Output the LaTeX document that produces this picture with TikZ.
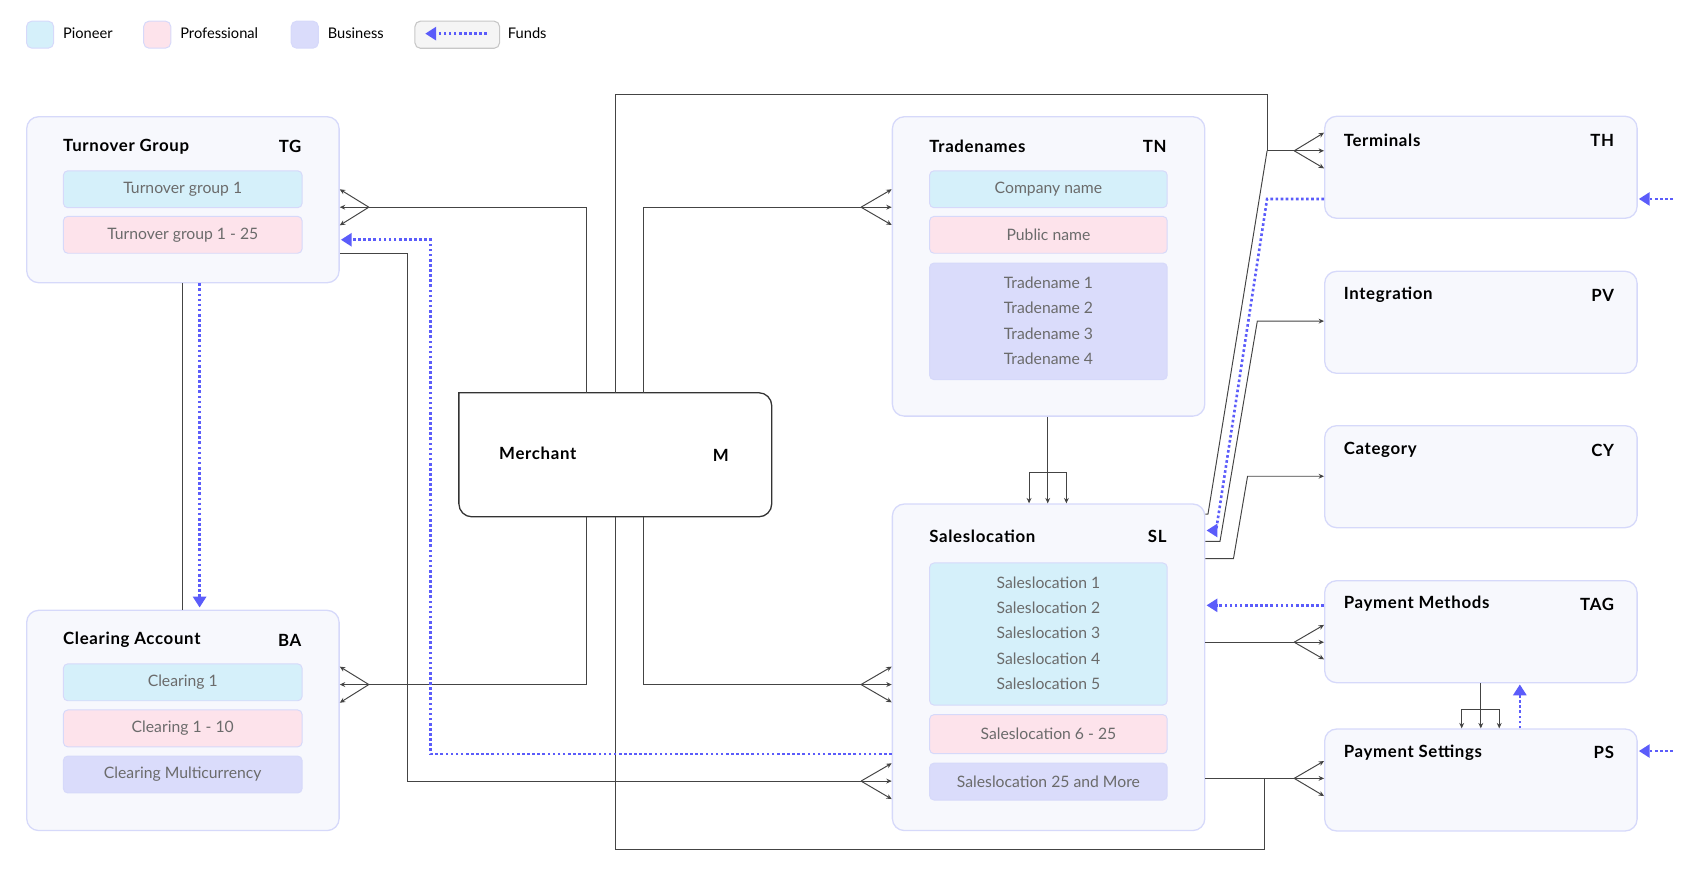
\documentclass[tikz,border=0pt]{standalone}
\usepackage{fontspec}
\setmainfont{Lato}
\usetikzlibrary{arrows.meta,calc}
\definecolor{outerfill}{HTML}{F7F8FD}
\definecolor{outerdraw}{HTML}{D6D9FA}
\definecolor{pion}{HTML}{D5F0FA}
\definecolor{prof}{HTML}{FDE3EB}
\definecolor{busi}{HTML}{DADCFB}
\definecolor{funds}{HTML}{5B5CFA}
\definecolor{itext}{HTML}{6B6B6B}
\definecolor{ink}{HTML}{444444}
\begin{document}
\begin{tikzpicture}[x=1pt,y=-1pt,
 outerbox/.style={draw=outerdraw, fill=outerfill, line width=1.2pt, rounded corners=11pt, anchor=north west, inner sep=0pt},
 rbox/.style={outerbox, minimum width=288pt, minimum height=94pt},
 innerbox/.style={draw=outerdraw, line width=0.9pt, rounded corners=4pt, anchor=north west, inner sep=0pt, minimum width=220pt},
 swatch/.style={draw=outerdraw, line width=0.9pt, rounded corners=5pt, anchor=north west, inner sep=0pt, minimum width=25pt, minimum height=25pt},
 ttl/.style={font=\fontsize{15.5}{18}\selectfont\bfseries\addfontfeatures{LetterSpace=4}, text=black, inner sep=0pt},
 itx/.style={font=\fontsize{14.5}{18}\selectfont, text=itext, inner sep=0pt},
 lgd/.style={font=\fontsize{13.5}{16}\selectfont, text=black, inner sep=0pt, anchor=west},
 conn/.style={draw=ink, line width=0.9pt},
 tip/.style={conn, -{Stealth[length=5pt,width=4.5pt]}},
 fund/.style={draw=funds, line width=2.4pt, dash pattern=on 2.4pt off 2.3pt, -{Triangle[length=10pt,width=12pt]}},
]
\useasboundingbox (0,0) rectangle (1568,820);

% ---------- legend ----------
\node[swatch, fill=pion] (lp) at (24,19) {};
\node[lgd] (lpt) at (58,31) {Pioneer};
\node[swatch, fill=prof] (lr) at (132,19) {};
\node[lgd] (lrt) at (166,31) {Professional};
\node[swatch, fill=busi] (lb) at (268,19) {};
\node[lgd] (lbt) at (302,31) {Business};
\node[draw=black!22, fill=black!4, line width=1pt, rounded corners=5pt, anchor=north west, minimum width=78pt, minimum height=25pt, inner sep=0pt] (lf) at (382,19) {};
\coordinate (lfa) at (449,31);
\coordinate (lfb) at (392,31);
\draw[fund] (lfa) -- (lfb);
\node[lgd] (lft) at (468,31) {Funds};

% ---------- left boxes ----------
\node[outerbox, minimum width=288pt, minimum height=153pt] (tg) at (24,107) {};
\node[ttl, anchor=west] (tgt) at (58,135) {Turnover Group};
\node[ttl, anchor=east] (tga) at (278,135) {TG};
\node[innerbox, fill=pion, minimum height=34pt] (tg1) at (58,157) {};
\node[itx] at (tg1) {Turnover group 1};
\node[innerbox, fill=prof, minimum height=34pt] (tg2) at (58,199) {};
\node[itx] at (tg2) {Turnover group 1 - 25};

\node[outerbox, minimum width=288pt, minimum height=203pt] (ba) at (24,562) {};
\node[ttl, anchor=west] (bat) at (58,590) {Clearing Account};
\node[ttl, anchor=east] (baa) at (278,590) {BA};
\node[innerbox, fill=pion, minimum height=34pt] (ba1) at (58,611.5) {};
\node[itx] at (ba1) {Clearing 1};
\node[innerbox, fill=prof, minimum height=34pt] (ba2) at (58,654) {};
\node[itx] at (ba2) {Clearing 1 - 10};
\node[innerbox, fill=busi, minimum height=34pt] (ba3) at (58,696.5) {};
\node[itx] at (ba3) {Clearing Multicurrency};

% ---------- merchant ----------
\node[minimum width=288pt, minimum height=114pt, anchor=north west, inner sep=0pt] (mer) at (423,362) {};
\draw[draw=black!80, fill=white, line width=1.2pt, rounded corners=12pt]
  (mer.north) -- (mer.north east) -- (mer.south east) -- (mer.south west) -- (mer.west)
  [sharp corners] -- (mer.north west) -- cycle;
\node[ttl, anchor=west] (mert) at (460,418) {Merchant};
\node[ttl, anchor=east] (mera) at (672,420) {M};

% ---------- tradenames ----------
\node[outerbox, minimum width=288pt, minimum height=276pt] (tn) at (822,107) {};
\node[ttl, anchor=west] (tnt) at (856.5,135) {Tradenames};
\node[ttl, anchor=east] (tna) at (1075.5,135) {TN};
\node[innerbox, fill=pion, minimum height=34pt, minimum width=219pt] (tn1) at (856.5,157) {};
\node[itx] at (tn1) {Company name};
\node[innerbox, fill=prof, minimum height=34pt, minimum width=219pt] (tn2) at (856.5,199) {};
\node[itx] at (tn2) {Public name};
\node[innerbox, fill=busi, minimum height=107.5pt, minimum width=219pt] (tn3) at (856.5,242) {};
\node[itx] at ($(tn3.north)+(0,18.5)$) {Tradename 1};
\node[itx] at ($(tn3.north)+(0,42)$) {Tradename 2};
\node[itx] at ($(tn3.north)+(0,65.3)$) {Tradename 3};
\node[itx] at ($(tn3.north)+(0,88.7)$) {Tradename 4};

% ---------- saleslocation ----------
\node[outerbox, minimum width=288pt, minimum height=301pt] (sl) at (822,464) {};
\node[ttl, anchor=west] (slt) at (856.5,494.7) {Saleslocation};
\node[ttl, anchor=east] (sla) at (1075.5,494.7) {SL};
\node[innerbox, fill=pion, minimum height=131pt, minimum width=219pt] (sl1) at (856.5,518.5) {};
\node[itx] at ($(sl1.north)+(0,18.3)$) {Saleslocation 1};
\node[itx] at ($(sl1.north)+(0,41.7)$) {Saleslocation 2};
\node[itx] at ($(sl1.north)+(0,65)$) {Saleslocation 3};
\node[itx] at ($(sl1.north)+(0,88.4)$) {Saleslocation 4};
\node[itx] at ($(sl1.north)+(0,111.7)$) {Saleslocation 5};
\node[innerbox, fill=prof, minimum height=36pt, minimum width=219pt] (sl2) at (856.5,658.3) {};
\node[itx] at (sl2) {Saleslocation 6 - 25};
\node[innerbox, fill=busi, minimum height=34pt, minimum width=219pt] (sl3) at (856.5,703) {};
\node[itx] at (sl3) {Saleslocation 25 and More};

% ---------- right column ----------
\node[rbox] (th) at (1220.5,106.6) {};
\node[ttl, anchor=west] (tht) at (1238.5,129) {Terminals};
\node[ttl, anchor=east] (tha) at (1488,129) {TH};
\node[rbox] (pv) at (1220.5,249.5) {};
\node[ttl, anchor=west] (pvt) at (1238.5,272) {Integration};
\node[ttl, anchor=east] (pva) at (1488,272) {PV};
\node[rbox] (cy) at (1220.5,391.8) {};
\node[ttl, anchor=west] (cyt) at (1238.5,414.8) {Category};
\node[ttl, anchor=east] (cya) at (1488,414.8) {CY};
\node[rbox] (tag) at (1220.5,534.7) {};
\node[ttl, anchor=west] (tagt) at (1238.5,556.8) {Payment Methods};
\node[ttl, anchor=east] (taga) at (1488,556.8) {TAG};
\node[rbox] (ps) at (1220.5,671.4) {};
\node[ttl, anchor=west] (pst) at (1238.5,693.8) {Payment Settings};
\node[ttl, anchor=east] (psa) at (1488,693.8) {PS};

% ---------- connectors ----------
% TG <-> BA vertical
\draw[conn] (tg.south -| 168,0) -- (ba.north -| 168,0);
% Merchant -> TG fan
\coordinate (tgf) at (340,191);
\draw[conn] (mer.north -| 541,0) -- (541,191) -- (tgf);
\foreach \y in {174.5,191,207.7} \draw[tip] (tgf) -- (tg.east |- 0,\y);
% Merchant -> BA fan
\coordinate (baf) at (340,631);
\draw[conn] (mer.south -| 541,0) -- (541,631) -- (baf);
\foreach \y in {614.5,631,647.8} \draw[tip] (baf) -- (ba.east |- 0,\y);
% Merchant -> TN fan
\coordinate (tnf) at (793.7,191);
\draw[conn] (mer.north -| 593,0) -- (593,191) -- (tnf);
\foreach \y in {174.5,191,207.4} \draw[tip] (tnf) -- (tn.west |- 0,\y);
% Merchant -> SL upper fan
\coordinate (slf) at (793.7,631);
\draw[conn] (mer.south -| 593,0) -- (593,631) -- (slf);
\foreach \y in {614.5,631,647.4} \draw[tip] (slf) -- (sl.west |- 0,\y);
% TG -> SL lower fan
\coordinate (slg) at (793.7,720);
\draw[conn] (tg.east |- 0,234) -- (376,234) -- (376,720) -- (slg);
\foreach \y in {703.6,720,736.6} \draw[tip] (slg) -- (sl.west |- 0,\y);
% Merchant big loop top -> Terminals
\coordinate (lt) at (1168,139);
\coordinate (thf) at (1193,139);
\draw[conn] (mer.north -| 567,0) -- (567,87) -- (1168,87) -- (lt) -- (thf);
\foreach \y in {122.3,139,155.2} \draw[tip] (thf) -- (th.west |- 0,\y);
\draw[conn] (lt) -- (1113.5,474) -- (sl.east |- 0,474);
% Merchant loop bottom -> PS
\coordinate (psf) at (1193,717.5);
\draw[conn] (mer.south -| 567,0) -- (567,783) -- (1165.5,783) -- (1165.5,717.5);
\draw[conn] (sl.east |- 0,717.5) -- (psf);
\foreach \y in {701.5,717.5,733.8} \draw[tip] (psf) -- (ps.west |- 0,\y);
% SL -> Integration
\draw[tip] (sl.east |- 0,499) -- (1124.6,499) -- (1159,296) -- (pv.west |- 0,296);
% SL -> Category
\draw[tip] (sl.east |- 0,515) -- (1137,515) -- (1150,439) -- (cy.west |- 0,439);
% SL -> PM fan
\coordinate (tagf) at (1193,592);
\draw[conn] (sl.east |- 0,592) -- (tagf);
\foreach \y in {576,592,607.8} \draw[tip] (tagf) -- (tag.west |- 0,\y);
% PM -> PS three arrows
\draw[tip] (tag.south -| 1365,0) -- (ps.north -| 1365,0);
\draw[conn] (1347.4,654) -- (1382,654);
\draw[tip] (1347.4,654) -- (ps.north -| 1347.4,0);
\draw[tip] (1382,654) -- (ps.north -| 1382,0);
% TN -> SL three arrows
\draw[tip] (tn.south -| 965.8,0) -- (sl.north -| 965.8,0);
\draw[conn] (948.6,435.4) -- (983,435.4);
\draw[tip] (948.6,435.4) -- (sl.north -| 948.6,0);
\draw[tip] (983,435.4) -- (sl.north -| 983,0);

% ---------- funds ----------
\draw[fund] (tg.south -| 184,0) -- ($(ba.north -| 184,0)+(0,-2)$);
\draw[fund] (sl.west |- 0,695) -- (397,695) -- (397,221) -- ($(tg.east |- 0,221)+(1,0)$);
\draw[fund] (th.west |- 0,183.4) -- (1168,183.4) -- (1121,489) -- ($(sl.east |- 0,489)+(1,0)$);
\draw[fund] (tag.west |- 0,558) -- ($(sl.east |- 0,558)+(1,0)$);
\draw[fund] (ps.north -| 1401,0) -- ($(tag.south -| 1401,0)+(0,1)$);
\coordinate (thin) at (1542,183.4);
\coordinate (psin) at (1542,692.3);
\draw[fund] (thin) -- ($(th.east |- thin)+(1,0)$);
\draw[fund] (psin) -- ($(ps.east |- psin)+(1,0)$);
\end{tikzpicture}
\end{document}
